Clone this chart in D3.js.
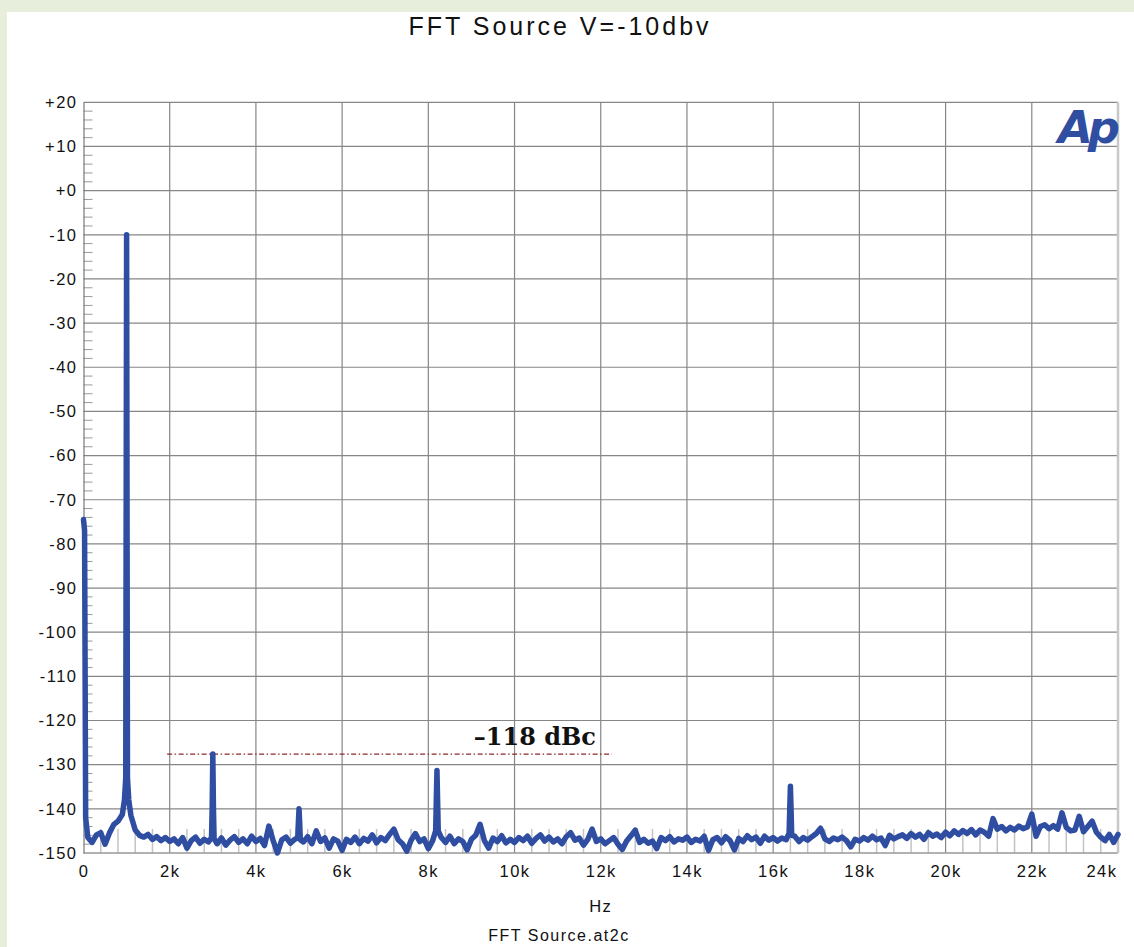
<!DOCTYPE html>
<html>
<head>
<meta charset="utf-8">
<title>FFT Source V=-10dbv</title>
<script src="https://cdnjs.cloudflare.com/ajax/libs/d3/7.8.5/d3.min.js"></script>
<style>
body { margin: 0; background: #e7eedc; }
svg { display: block; font-family: "Liberation Sans", Arial, sans-serif; }
</style>
</head>
<body>
<div id="chart-area"></div>
<script>
// FFT of the source at -10 dBV, level in dBV, one value every 100 Hz
var binHz = 100;
var floorDb = [
    -74.5, -146.5, -147.6, -145.9, -145.4, -148.0, -145.5, -143.6, -142.8, -141.3,
    -10.0, -141.5, -144.8, -146.0, -146.4, -145.8, -146.9, -146.3, -147.2, -146.5,
    -147.4, -146.8, -147.9, -146.5, -148.9, -147.2, -146.4, -147.8, -146.9, -147.5,
    -127.6, -147.9, -146.6, -148.2, -147.1, -146.3, -147.6, -146.8, -147.9, -146.2,
    -147.4, -146.7, -148.3, -143.9, -147.2, -150.0, -147.0, -146.4, -147.8, -146.9,
    -140.0, -147.5, -146.3, -147.9, -145.0, -147.4, -146.6, -148.9, -146.8, -147.3,
    -149.4, -146.9, -147.6, -146.4, -147.9, -146.7, -147.3, -145.9, -147.7, -146.5,
    -147.2, -145.8, -144.6, -147.0, -147.9, -149.6, -147.1, -145.6, -147.4, -146.8,
    -149.0, -147.2, -131.3, -146.5, -147.6, -146.2, -147.9, -146.8, -147.4, -149.3,
    -146.9, -146.0, -143.5, -147.2, -148.9, -146.6, -147.4, -146.1, -147.7, -146.9,
    -147.6, -146.5, -147.2, -146.2, -147.8, -146.7, -145.9, -147.3, -146.4, -147.5,
    -146.8, -147.9, -146.3, -145.4, -147.1, -146.6, -148.2, -146.9, -144.6, -147.4,
    -146.8, -147.9, -147.2, -146.5, -148.0, -149.2, -147.3, -146.1, -144.8, -147.6,
    -146.9, -147.8, -147.3, -149.0, -146.5, -147.2, -146.3, -147.5, -146.8, -147.1,
    -146.4, -147.6, -146.9, -147.3, -146.2, -149.4, -147.0, -146.5, -147.7, -146.3,
    -147.2, -149.3, -146.7, -147.4, -146.1, -147.0, -146.4, -147.8, -146.2, -147.1,
    -146.5, -147.3, -146.6, -147.0, -134.9, -146.2, -147.4, -146.5, -147.1, -146.3,
    -145.6, -144.4, -146.8, -147.4, -146.6, -147.0, -146.4, -147.2, -148.6, -146.9,
    -147.3, -146.5, -147.1, -146.2, -147.0, -146.6, -148.3, -146.0, -146.8, -146.3,
    -145.9, -146.7, -145.6, -146.4, -145.8, -146.9, -145.4, -146.2, -145.7, -146.5,
    -145.3, -146.1, -145.0, -145.8, -144.9, -145.6, -144.7, -145.9, -144.8, -145.3,
    -146.2, -142.2, -144.6, -144.0, -145.0, -144.2, -144.8, -143.9, -144.5, -144.1,
    -141.2, -146.2, -144.0, -143.6, -144.5, -143.8, -144.6, -140.9, -144.2, -145.0,
    -144.8, -141.7, -145.2, -144.0, -142.8, -145.3, -146.4, -147.2, -145.8, -147.6,
    -145.8
];

// extra points on the flanks of DC, the fundamental and the harmonics
var peakHz = [25, 50, 950, 980, 1020, 1050, 2970, 2985, 3015, 3030,
    4970, 4985, 5015, 5030, 8170, 8185, 8215, 8230, 16370, 16385, 16415, 16430];
var peakDb = [-77, -142, -138, -133, -133, -138, -146.5, -140, -140, -146.8,
    -146.5, -143, -143, -147, -145, -138, -138, -145, -145.5, -140, -140, -146];

var xTicks = [0, 2000, 4000, 6000, 8000, 10000, 12000, 14000, 16000, 18000, 20000, 22000, 24000];
var xTickLabels = ["0", "2k", "4k", "6k", "8k", "10k", "12k", "14k", "16k", "18k", "20k", "22k", "24k"];
var yTicks = [20, 10, 0, -10, -20, -30, -40, -50, -60, -70, -80, -90, -100, -110, -120, -130, -140, -150];

// worst harmonic marker
var markerHz = [1940, 12260];
var markerDb = -127.6;
var markerText = "\u2013118 dBc";

var margin = {left: 83.5, right: 16, top: 102.3, bottom: 94};
var width = 1134 - margin.left - margin.right;
var height = 947 - margin.top - margin.bottom;

var svg = d3.select("#chart-area")
    .append("svg")
        .attr("width", 1134)
        .attr("height", 947);

// white sheet over the green page
svg.append("rect")
    .attr("x", 7).attr("y", 12)
    .attr("width", 1127).attr("height", 935)
    .attr("fill", "#ffffff");

svg.append("text")
    .attr("x", 560).attr("y", 35)
    .attr("text-anchor", "middle")
    .attr("font-size", "25px")
    .attr("letter-spacing", "3px")
    .attr("fill", "#111")
    .text("FFT Source V=-10dbv");

var g = svg.append("g")
    .attr("transform", "translate(" + margin.left + "," + margin.top + ")");

var x = d3.scaleLinear().domain([0, 24000]).range([0, width]);
var y = d3.scaleLinear().domain([-150, 20]).range([height, 0]);

// grid
g.append("g")
    .attr("class", "grid")
    .selectAll("line.v")
    .data(xTicks.slice(1, -1))
    .enter().append("line")
        .attr("x1", function(d){ return x(d); })
        .attr("x2", function(d){ return x(d); })
        .attr("y1", 0).attr("y2", height)
        .attr("stroke", "#868686").attr("stroke-width", 1.2);

g.append("g")
    .attr("class", "grid")
    .selectAll("line.h")
    .data(yTicks.slice(1, -1))
    .enter().append("line")
        .attr("x1", 0).attr("x2", width)
        .attr("y1", function(d){ return y(d); })
        .attr("y2", function(d){ return y(d); })
        .attr("stroke", "#868686").attr("stroke-width", 1.2);

// minor ticks
var yMinor = d3.range(-148, 20, 2).filter(function(d){ return d % 10 !== 0; });
g.selectAll("line.ym")
    .data(yMinor)
    .enter().append("line")
        .attr("x1", 0).attr("x2", 9)
        .attr("y1", function(d){ return y(d); })
        .attr("y2", function(d){ return y(d); })
        .attr("stroke", "#9a9a9a").attr("stroke-width", 1);

var xMinor = d3.range(400, 24000, 400).filter(function(d){ return d % 2000 !== 0; });
g.selectAll("line.xm")
    .data(xMinor)
    .enter().append("line")
        .attr("x1", function(d){ return x(d); })
        .attr("x2", function(d){ return x(d); })
        .attr("y1", height).attr("y2", height - 24)
        .attr("stroke", "#c4c4c4").attr("stroke-width", 1.5);

// frame
g.append("line").attr("x1", 0).attr("x2", width).attr("y1", 0).attr("y2", 0)
    .attr("stroke", "#868686").attr("stroke-width", 1.2);
g.append("line").attr("x1", 0).attr("x2", width).attr("y1", height).attr("y2", height)
    .attr("stroke", "#999").attr("stroke-width", 1.5);
g.append("line").attr("x1", width).attr("x2", width).attr("y1", 0).attr("y2", height)
    .attr("stroke", "#c8c8c8").attr("stroke-width", 2.5);

// axes
var yAxisCall = d3.axisLeft(y)
    .tickValues(yTicks)
    .tickSize(0)
    .tickPadding(6)
    .tickFormat(function(d){ return d >= 0 ? "+" + d : "-" + Math.abs(d); });
var yAxis = g.append("g").attr("class", "y axis").call(yAxisCall);
yAxis.select(".domain").attr("stroke", "#777").attr("stroke-width", 1.2);
yAxis.selectAll("text")
    .attr("font-size", "16.5px")
    .attr("letter-spacing", "1.5px")
    .attr("fill", "#111")
    .attr("font-family", "'Liberation Sans', Arial, sans-serif");

var xAxisCall = d3.axisBottom(x)
    .tickValues(xTicks)
    .tickSize(0)
    .tickPadding(12)
    .tickFormat(function(d, i){ return xTickLabels[i]; });
var xAxis = g.append("g")
    .attr("class", "x axis")
    .attr("transform", "translate(0," + height + ")")
    .call(xAxisCall);
xAxis.select(".domain").remove();
xAxis.selectAll("text")
    .attr("font-size", "16.5px")
    .attr("letter-spacing", "1.5px")
    .attr("fill", "#111")
    .attr("font-family", "'Liberation Sans', Arial, sans-serif");
// last label sits inside the frame
xAxis.selectAll(".tick").filter(function(d){ return d === 24000; })
    .select("text")
        .attr("text-anchor", "end")
        .attr("dx", "-1px");

g.append("text")
    .attr("x", width / 2).attr("y", height + 59)
    .attr("text-anchor", "middle")
    .attr("font-size", "16.5px")
    .attr("letter-spacing", "1.5px")
    .attr("fill", "#111")
    .text("Hz");

svg.append("text")
    .attr("x", 559).attr("y", 941)
    .attr("text-anchor", "middle")
    .attr("font-size", "16px")
    .attr("letter-spacing", "1.5px")
    .attr("fill", "#111")
    .text("FFT Source.at2c");

// Ap logo
svg.append("text")
    .attr("x", 1115).attr("y", 142.5)
    .attr("text-anchor", "end")
    .attr("font-family", "'DejaVu Sans', sans-serif")
    .attr("font-weight", "bold")
    .attr("font-style", "italic")
    .attr("font-size", "45px")
    .attr("letter-spacing", "-5px")
    .attr("fill", "#2f4ea1")
    .text("Ap");

// harmonic level marker
g.append("line")
    .attr("x1", x(markerHz[0])).attr("x2", x(markerHz[1]))
    .attr("y1", y(markerDb)).attr("y2", y(markerDb))
    .attr("stroke", "#8b2a2a")
    .attr("stroke-width", 1.2)
    .attr("stroke-dasharray", "5,2.5,1.5,2.5");

g.append("text")
    .attr("x", x(markerHz[1]) - 16).attr("y", y(markerDb) - 9)
    .attr("text-anchor", "end")
    .attr("font-family", "'DejaVu Serif', serif")
    .attr("font-weight", "bold")
    .attr("font-size", "24px")
    .attr("fill", "#111")
    .text(markerText);

// spectrum
var points = floorDb.map(function(d, i){ return {hz: i * binHz, db: d}; })
    .concat(peakHz.map(function(d, i){ return {hz: d, db: peakDb[i]}; }))
    .sort(function(a, b){ return a.hz - b.hz; });

var line = d3.line()
    .x(function(d){ return x(d.hz); })
    .y(function(d){ return y(d.db); });

g.append("path")
    .datum(points)
    .attr("d", line)
    .attr("fill", "none")
    .attr("stroke", "#2f4ea1")
    .attr("stroke-width", 5.5)
    .attr("stroke-linejoin", "round")
    .attr("stroke-linecap", "round");
</script>
</body>
</html>
